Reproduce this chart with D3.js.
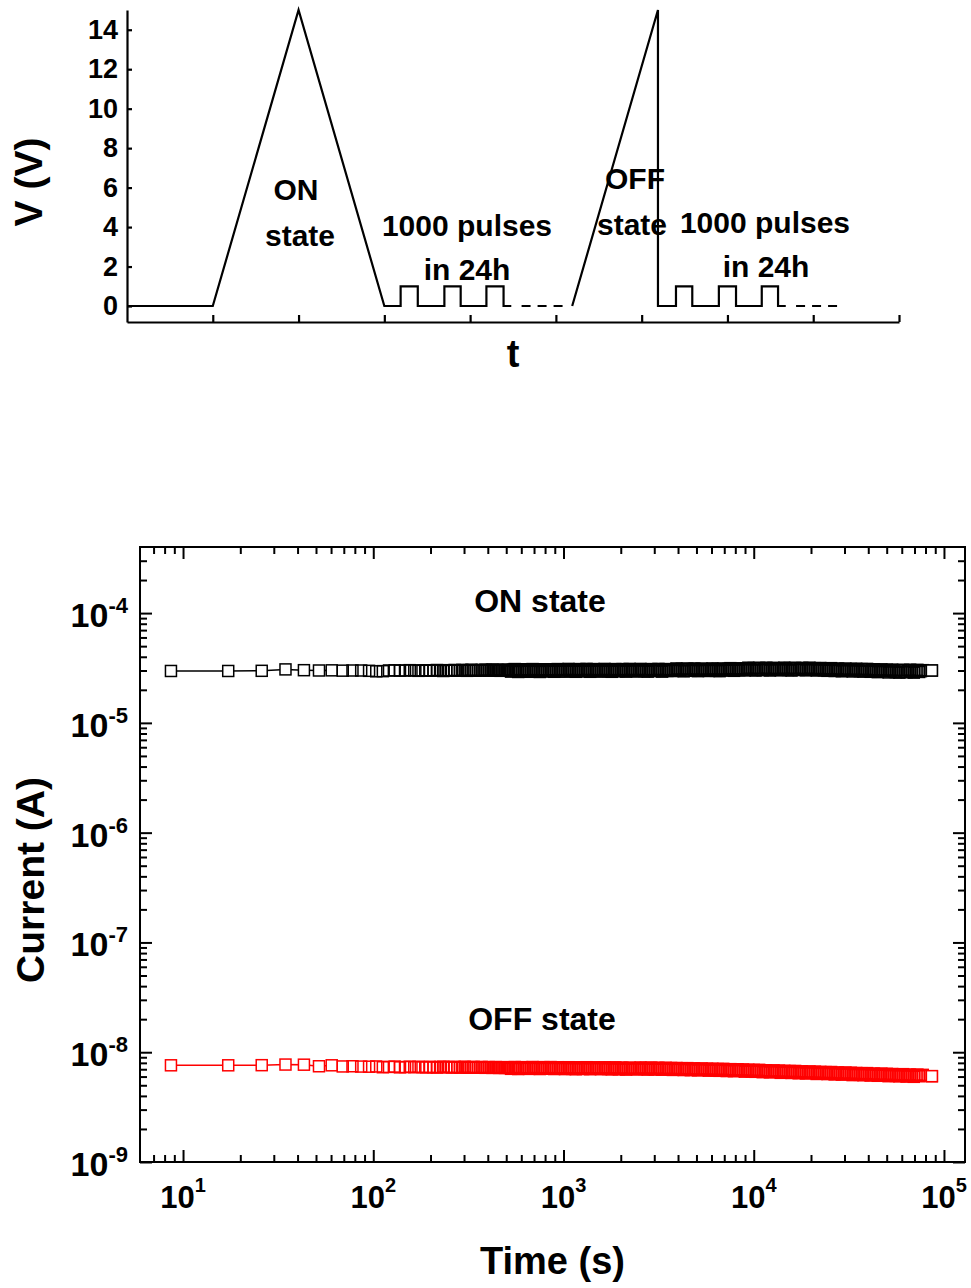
<!DOCTYPE html>
<html>
<head>
<meta charset="utf-8">
<script src="https://cdnjs.cloudflare.com/ajax/libs/d3/7.8.5/d3.min.js"></script>
<style>
  body { margin: 0; background: #fff; }
  svg { display: block; font-family: "Liberation Sans", Arial, sans-serif; font-weight: bold; }
</style>
</head>
<body>
<div id="chart"></div>
<script>
// ──── Data: top panel (pulse scheme, arbitrary time units) ────
const waveT1 = [0, 1, 2, 3, 3.19, 3.19, 3.39, 3.39, 3.7, 3.7, 3.89, 3.89, 4.19, 4.19, 4.39, 4.39, 4.48];
const waveV1 = [0, 0, 15, 0, 0, 1, 1, 0, 0, 1, 1, 0, 0, 1, 1, 0, 0];
const waveT2 = [5.19, 6.19, 6.19, 6.4, 6.4, 6.59, 6.59, 6.9, 6.9, 7.1, 7.1, 7.4, 7.4, 7.59, 7.59, 7.68];
const waveV2 = [0, 15, 0, 0, 1, 1, 0, 0, 1, 1, 0, 0, 1, 1, 0, 0];
const dashT1 = [4.6, 5.1];
const dashT2 = [7.8, 8.29];
const voltTicks = [0, 2, 4, 6, 8, 10, 12, 14];
const timeTicks = [1, 2, 3, 4, 5, 6, 7, 8, 9];

// ──── Data: retention test ────
// time (s)
const timeS = [
  8.64, 17.28, 25.92, 34.56, 43.2, 51.84, 60.48, 69.12, 77.76, 86.4,
  95.04, 103.7, 112.3, 121, 129.6, 138.2, 146.9, 155.5, 164.2, 172.8,
  181.4, 190.1, 198.7, 207.4, 216, 224.6, 233.3, 241.9, 250.6, 259.2,
  267.8, 276.5, 285.1, 293.8, 302.4, 311, 319.7, 328.3, 337, 345.6,
  354.2, 362.9, 371.5, 380.2, 388.8, 397.4, 406.1, 414.7, 423.4, 432,
  440.6, 449.3, 457.9, 466.6, 475.2, 483.8, 492.5, 501.1, 509.8, 518.4,
  530, 542, 554, 566, 578, 591, 604, 617, 631, 645,
  659, 673, 688, 703, 719, 735, 751, 767, 784, 801,
  819, 837, 855, 874, 893, 913, 933, 954, 975, 996,
  1018, 1040, 1063, 1087, 1111, 1135, 1160, 1186, 1212, 1239,
  1266, 1294, 1322, 1351, 1381, 1411, 1442, 1474, 1507, 1540,
  1574, 1608, 1644, 1680, 1717, 1755, 1793, 1833, 1873, 1914,
  1956, 1999, 2043, 2088, 2134, 2181, 2229, 2278, 2328, 2379,
  2432, 2485, 2540, 2596, 2653, 2711, 2771, 2832, 2894, 2958,
  3023, 3089, 3157, 3227, 3298, 3370, 3444, 3520, 3598, 3677,
  3758, 3840, 3925, 4011, 4099, 4189, 4282, 4376, 4472, 4570,
  4671, 4773, 4878, 4986, 5095, 5207, 5322, 5439, 5559, 5681,
  5806, 5934, 6064, 6198, 6334, 6473, 6616, 6761, 6910, 7062,
  7217, 7376, 7538, 7704, 7873, 8046, 8224, 8405, 8590, 8779,
  8972, 9169, 9371, 9577, 9788, 10003, 10223, 10448, 10678, 10913,
  11153, 11398, 11649, 11905, 12167, 12435, 12708, 12988, 13274, 13566,
  13864, 14169, 14481, 14800, 15125, 15458, 15798, 16146, 16501, 16864,
  17235, 17614, 18002, 18398, 18803, 19216, 19639, 20071, 20513, 20964,
  21425, 21897, 22378, 22871, 23374, 23888, 24414, 24951, 25500, 26061,
  26634, 27220, 27819, 28431, 29056, 29696, 30349, 31017, 31699, 32397,
  33109, 33838, 34582, 35343, 36121, 36915, 37728, 38558, 39406, 40273,
  41159, 42064, 42990, 43936, 44902, 45890, 46900, 47931, 48986, 50064,
  51165, 52291, 53441, 54617, 55819, 57047, 58302, 59584, 60895, 62235,
  63604, 65003, 66433, 67895, 69389, 70915, 72475, 74070, 75699, 77365,
  86400
];

// ON state current, in units of 1e-5 A
const ON_UNIT = 1e-5;
const onCurrent = [
  2.97, 2.97, 2.98, 3.07, 3.02, 3.0, 3.01, 2.99, 3.0, 3.0,
  2.98, 2.95, 2.96, 3.0, 3.01, 2.99, 3.0, 3.02, 3.0, 2.98,
  3.0, 3.01, 2.99, 3.0, 3.03, 3.0, 2.97, 3.0, 3.02, 3.0,
  3.03, 2.99, 3.01, 3.04, 3.0, 2.98, 3.02, 3.05, 3.01, 2.99,
  3.02, 3.0, 3.04, 3.01, 3.05, 3.02, 2.99, 3.03, 3.06, 3.01,
  3.0, 3.04, 3.02, 2.98, 3.01, 3.05, 3.03, 2.99, 3.04, 3.01,
  2.93, 3.05, 3.09, 2.97, 2.91, 3.02, 3.08, 2.95, 3.0, 3.06,
  2.92, 3.03, 3.09, 2.98, 2.94, 3.07, 2.91, 3.04, 3.08, 2.96,
  2.95, 3.06, 3.08, 2.96, 2.92, 3.03, 3.09, 2.94, 3.01, 3.05,
  2.93, 3.04, 3.1, 2.99, 2.95, 3.08, 2.92, 3.05, 3.09, 2.97,
  2.94, 3.06, 3.1, 2.98, 2.92, 3.03, 3.09, 2.96, 3.01, 3.07,
  2.93, 3.04, 3.1, 2.99, 2.95, 3.08, 2.92, 3.05, 3.09, 2.97,
  2.95, 3.06, 3.09, 2.98, 2.93, 3.04, 3.1, 2.96, 3.02, 3.07,
  2.94, 3.03, 3.1, 3.0, 2.95, 3.08, 2.93, 3.06, 3.09, 2.98,
  2.96, 3.07, 3.1, 2.99, 2.93, 3.04, 3.09, 2.97, 3.02, 3.08,
  2.97, 3.07, 3.13, 3.02, 2.98, 3.11, 2.95, 3.08, 3.12, 3.0,
  2.98, 3.09, 3.13, 3.01, 2.96, 3.06, 3.12, 2.99, 3.05, 3.1,
  2.97, 3.08, 3.13, 3.03, 2.98, 3.11, 2.96, 3.09, 3.12, 3.01,
  3.0, 3.11, 3.15, 3.04, 2.98, 3.08, 3.14, 3.01, 3.07, 3.12,
  3.01, 3.12, 3.18, 3.07, 3.03, 3.16, 3.0, 3.13, 3.17, 3.05,
  3.02, 3.14, 3.18, 3.06, 3.0, 3.11, 3.17, 3.04, 3.09, 3.15,
  3.01, 3.12, 3.18, 3.07, 3.03, 3.16, 3.0, 3.13, 3.17, 3.05,
  3.03, 3.14, 3.17, 3.06, 3.01, 3.11, 3.18, 3.04, 3.1, 3.15,
  3.0, 3.1, 3.16, 3.05, 3.01, 3.14, 2.98, 3.11, 3.15, 3.03,
  2.97, 3.09, 3.13, 3.01, 2.95, 3.06, 3.12, 2.99, 3.04, 3.1,
  2.94, 3.05, 3.11, 3.0, 2.96, 3.09, 2.93, 3.06, 3.1, 2.98,
  2.92, 3.04, 3.08, 2.96, 2.9, 3.01, 3.07, 2.94, 2.99, 3.05,
  2.88, 2.99, 3.05, 2.94, 2.9, 3.03, 2.87, 3.0, 3.04, 2.92,
  2.89, 3.01, 3.05, 2.93, 2.87, 2.98, 3.04, 2.91, 2.96, 3.02,
  3.0
];

// OFF state current, in units of 1e-9 A
const OFF_UNIT = 1e-9;
const offCurrent = [
  7.6, 7.6, 7.62, 7.72, 7.7, 7.45, 7.6, 7.42, 7.45, 7.4,
  7.38, 7.42, 7.3, 7.35, 7.4, 7.28, 7.33, 7.38, 7.3, 7.36,
  7.32, 7.27, 7.36, 7.3, 7.25, 7.34, 7.38, 7.29, 7.33, 7.26,
  7.35, 7.3, 7.24, 7.32, 7.37, 7.28, 7.22, 7.31, 7.35, 7.27,
  7.23, 7.3, 7.34, 7.26, 7.21, 7.29, 7.33, 7.25, 7.2, 7.28,
  7.32, 7.24, 7.19, 7.27, 7.31, 7.22, 7.18, 7.26, 7.3, 7.21,
  7.06, 7.26, 7.33, 7.13, 7.03, 7.21, 7.31, 7.1, 7.18, 7.28,
  7.05, 7.23, 7.33, 7.15, 7.08, 7.3, 7.03, 7.25, 7.31, 7.11,
  7.07, 7.24, 7.32, 7.12, 7.03, 7.2, 7.3, 7.09, 7.18, 7.27,
  7.02, 7.2, 7.3, 7.12, 7.05, 7.27, 7.0, 7.22, 7.28, 7.08,
  7.03, 7.23, 7.3, 7.1, 7.0, 7.18, 7.28, 7.07, 7.15, 7.25,
  7.0, 7.18, 7.28, 7.1, 7.03, 7.25, 6.98, 7.2, 7.26, 7.06,
  6.98, 7.18, 7.25, 7.05, 6.95, 7.13, 7.23, 7.02, 7.1, 7.2,
  6.97, 7.15, 7.25, 7.07, 7.0, 7.22, 6.95, 7.17, 7.23, 7.03,
  6.96, 7.16, 7.23, 7.03, 6.93, 7.11, 7.21, 7.0, 7.08, 7.18,
  6.9, 7.08, 7.18, 7.0, 6.93, 7.15, 6.88, 7.1, 7.16, 6.96,
  6.86, 7.06, 7.13, 6.93, 6.83, 7.01, 7.11, 6.9, 6.98, 7.08,
  6.79, 6.97, 7.07, 6.89, 6.82, 7.04, 6.77, 6.99, 7.05, 6.85,
  6.74, 6.94, 7.01, 6.81, 6.71, 6.89, 6.99, 6.78, 6.86, 6.96,
  6.65, 6.83, 6.93, 6.75, 6.68, 6.9, 6.63, 6.85, 6.91, 6.71,
  6.58, 6.78, 6.85, 6.65, 6.55, 6.73, 6.83, 6.62, 6.7, 6.8,
  6.49, 6.67, 6.77, 6.59, 6.52, 6.74, 6.47, 6.69, 6.75, 6.55,
  6.43, 6.63, 6.7, 6.5, 6.4, 6.58, 6.68, 6.47, 6.55, 6.65,
  6.34, 6.52, 6.62, 6.44, 6.37, 6.59, 6.32, 6.54, 6.6, 6.4,
  6.28, 6.48, 6.55, 6.35, 6.25, 6.43, 6.53, 6.32, 6.4, 6.5,
  6.19, 6.37, 6.47, 6.29, 6.22, 6.44, 6.17, 6.39, 6.45, 6.25,
  6.13, 6.33, 6.4, 6.2, 6.1, 6.28, 6.38, 6.17, 6.25, 6.35,
  6.05, 6.23, 6.33, 6.15, 6.08, 6.3, 6.03, 6.25, 6.31, 6.11,
  6.0, 6.2, 6.27, 6.07, 5.97, 6.15, 6.25, 6.04, 6.12, 6.22,
  6.05
];

const xMajor = [1e1, 1e2, 1e3, 1e4, 1e5];
const xExp = ["1", "2", "3", "4", "5"];
const yMajor = [1e-9, 1e-8, 1e-7, 1e-6, 1e-5, 1e-4];
const yExp = ["-9", "-8", "-7", "-6", "-5", "-4"];

const W = 971, H = 1288;

const svg = d3.select("#chart")
    .append("svg")
    .attr("width", W)
    .attr("height", H)
    .attr("viewBox", `0 0 ${W} ${H}`);

svg.append("rect").attr("width", W).attr("height", H).attr("fill", "#fff");

// ════════ Top panel: V vs t scheme ════════
const topBox = { left: 127, right: 899, top: 10, bottom: 322 };

const xTop = d3.scaleLinear().domain([0, 9]).range([topBox.left, topBox.right]);
const yTop = d3.scaleLinear().domain([-0.81, 15]).range([topBox.bottom, topBox.top]);

const wave = d3.line().x(d => xTop(d[0])).y(d => yTop(d[1]));

const gTop = svg.append("g");

gTop.append("path")
    .attr("d", wave(d3.zip(waveT1, waveV1)))
    .attr("fill", "none").attr("stroke", "#000").attr("stroke-width", 2.2)
    .attr("stroke-linejoin", "miter");

gTop.append("path")
    .attr("d", wave(d3.zip(waveT2, waveV2)))
    .attr("fill", "none").attr("stroke", "#000").attr("stroke-width", 2.2)
    .attr("stroke-linejoin", "miter");

[dashT1, dashT2].forEach(seg => {
    gTop.append("line")
        .attr("x1", xTop(seg[0])).attr("x2", xTop(seg[1]))
        .attr("y1", yTop(0)).attr("y2", yTop(0))
        .attr("stroke", "#000").attr("stroke-width", 2.2)
        .attr("stroke-dasharray", "9,7");
});

// axes
const yAxisTop = gTop.append("g")
    .attr("transform", `translate(${topBox.left},0)`)
    .call(d3.axisLeft(yTop).tickValues(voltTicks).tickSize(-5).tickSizeOuter(0).tickPadding(9));
const xAxisTop = gTop.append("g")
    .attr("transform", `translate(0,${topBox.bottom})`)
    .call(d3.axisBottom(xTop).tickValues(timeTicks).tickSize(-7).tickSizeOuter(0).tickFormat(""));

[yAxisTop, xAxisTop].forEach(g => {
    g.selectAll("path, line").attr("stroke", "#000").attr("stroke-width", 2.2);
    g.selectAll("text")
        .attr("font-family", "'Liberation Sans', Arial, sans-serif")
        .attr("font-weight", "bold")
        .attr("font-size", 27)
        .attr("fill", "#000");
});

gTop.append("text")
    .attr("transform", "translate(42,182) rotate(-90)")
    .attr("text-anchor", "middle")
    .attr("font-size", 39)
    .text("V (V)");

gTop.append("text")
    .attr("x", xTop(4.5)).attr("y", 367)
    .attr("text-anchor", "middle")
    .attr("font-size", 38)
    .text("t");

const topNotes = [
    { text: "ON", x: 296, y: 200 },
    { text: "state", x: 300, y: 246 },
    { text: "1000 pulses", x: 467, y: 236 },
    { text: "in 24h", x: 467, y: 280 },
    { text: "OFF", x: 635, y: 189 },
    { text: "state", x: 632, y: 235 },
    { text: "1000 pulses", x: 765, y: 233 },
    { text: "in 24h", x: 766, y: 277 },
];

gTop.selectAll("text.note")
    .data(topNotes)
    .join("text")
    .attr("class", "note")
    .attr("x", d => d.x).attr("y", d => d.y)
    .attr("text-anchor", "middle")
    .attr("font-size", 30)
    .text(d => d.text);

// ════════ Bottom panel: retention ════════
const plot = { left: 140, right: 965, top: 547, bottom: 1162 };

const x = d3.scaleLog().domain([5.94, 1.29e5]).range([plot.left, plot.right]);
const y = d3.scaleLog().domain([1e-9, 4e-4]).range([plot.bottom, plot.top]);

const gB = svg.append("g");

const xMinor = x.ticks().filter(v => !xMajor.some(m => Math.abs(m - v) / m < 1e-6) && x(v) > plot.left + 2 && x(v) < plot.right - 2);
const yMinor = y.ticks().filter(v => !yMajor.some(m => Math.abs(m - v) / m < 1e-6) && y(v) > plot.top + 2 && y(v) < plot.bottom - 2);

function styleAxis(g) {
    g.select(".domain").remove();
    g.selectAll("line").attr("stroke", "#000").attr("stroke-width", 2);
}

// bottom & top x ticks (inward)
gB.append("g").attr("transform", `translate(0,${plot.bottom})`)
    .call(d3.axisBottom(x).tickValues(xMajor).tickSize(-12).tickFormat("")).call(styleAxis);
gB.append("g").attr("transform", `translate(0,${plot.bottom})`)
    .call(d3.axisBottom(x).tickValues(xMinor).tickSize(-7).tickFormat("")).call(styleAxis);
gB.append("g").attr("transform", `translate(0,${plot.top})`)
    .call(d3.axisTop(x).tickValues(xMajor).tickSize(-12).tickFormat("")).call(styleAxis);
gB.append("g").attr("transform", `translate(0,${plot.top})`)
    .call(d3.axisTop(x).tickValues(xMinor).tickSize(-7).tickFormat("")).call(styleAxis);

// left & right y ticks (inward)
gB.append("g").attr("transform", `translate(${plot.left},0)`)
    .call(d3.axisLeft(y).tickValues(yMajor).tickSize(-12).tickFormat("")).call(styleAxis);
gB.append("g").attr("transform", `translate(${plot.left},0)`)
    .call(d3.axisLeft(y).tickValues(yMinor).tickSize(-7).tickFormat("")).call(styleAxis);
gB.append("g").attr("transform", `translate(${plot.right},0)`)
    .call(d3.axisRight(y).tickValues(yMajor).tickSize(-12).tickFormat("")).call(styleAxis);
gB.append("g").attr("transform", `translate(${plot.right},0)`)
    .call(d3.axisRight(y).tickValues(yMinor).tickSize(-7).tickFormat("")).call(styleAxis);

// tick labels with superscripts
xMajor.forEach((v, i) => {
    const t = gB.append("text")
        .attr("x", x(v)).attr("y", 1208)
        .attr("text-anchor", "middle")
        .attr("font-size", 31)
        .text("10");
    t.append("tspan").attr("dy", -16).attr("font-size", 20).text(xExp[i]);
});

yMajor.forEach((v, i) => {
    const t = gB.append("text")
        .attr("x", plot.left - 12).attr("y", y(v) + 14)
        .attr("text-anchor", "end")
        .attr("font-size", 34)
        .text("10");
    t.append("tspan").attr("dy", -14).attr("font-size", 22).text(yExp[i]);
});

// series
const onData = d3.zip(timeS, onCurrent.map(v => v * ON_UNIT));
const offData = d3.zip(timeS, offCurrent.map(v => v * OFF_UNIT));

const line = d3.line().x(d => x(d[0])).y(d => y(d[1]));
const side = 11;

[{ data: onData, color: "#000" }, { data: offData, color: "#ff0000" }].forEach(s => {
    gB.append("path")
        .datum(s.data)
        .attr("d", line)
        .attr("fill", "none")
        .attr("stroke", s.color)
        .attr("stroke-width", 1.5);

    // white body of the open squares (hides the line inside them)
    gB.append("g")
        .selectAll("rect")
        .data(s.data)
        .join("rect")
        .attr("x", d => x(d[0]) - side / 2)
        .attr("y", d => y(d[1]) - side / 2)
        .attr("width", side)
        .attr("height", side)
        .attr("fill", "#fff");

    // square outlines
    gB.append("g")
        .selectAll("rect")
        .data(s.data)
        .join("rect")
        .attr("x", d => x(d[0]) - side / 2)
        .attr("y", d => y(d[1]) - side / 2)
        .attr("width", side)
        .attr("height", side)
        .attr("fill", "none")
        .attr("stroke", s.color)
        .attr("stroke-width", 1.5);

    // last point is drawn on top, as in the reference
    const last = s.data[s.data.length - 1];
    gB.append("rect")
        .attr("x", x(last[0]) - side / 2)
        .attr("y", y(last[1]) - side / 2)
        .attr("width", side)
        .attr("height", side)
        .attr("fill", "#fff")
        .attr("stroke", s.color)
        .attr("stroke-width", 1.5);
});

// frame
gB.append("rect")
    .attr("x", plot.left).attr("y", plot.top)
    .attr("width", plot.right - plot.left)
    .attr("height", plot.bottom - plot.top)
    .attr("fill", "none")
    .attr("stroke", "#000")
    .attr("stroke-width", 2);

// annotations
gB.append("text")
    .attr("x", 540).attr("y", 612)
    .attr("text-anchor", "middle").attr("font-size", 32)
    .text("ON state");

gB.append("text")
    .attr("x", 542).attr("y", 1030)
    .attr("text-anchor", "middle").attr("font-size", 32)
    .text("OFF state");

// axis titles
gB.append("text")
    .attr("x", (plot.left + plot.right) / 2).attr("y", 1274)
    .attr("text-anchor", "middle").attr("font-size", 38)
    .text("Time (s)");

gB.append("text")
    .attr("transform", "translate(44,880) rotate(-90)")
    .attr("text-anchor", "middle").attr("font-size", 39)
    .text("Current (A)");
</script>
</body>
</html>
